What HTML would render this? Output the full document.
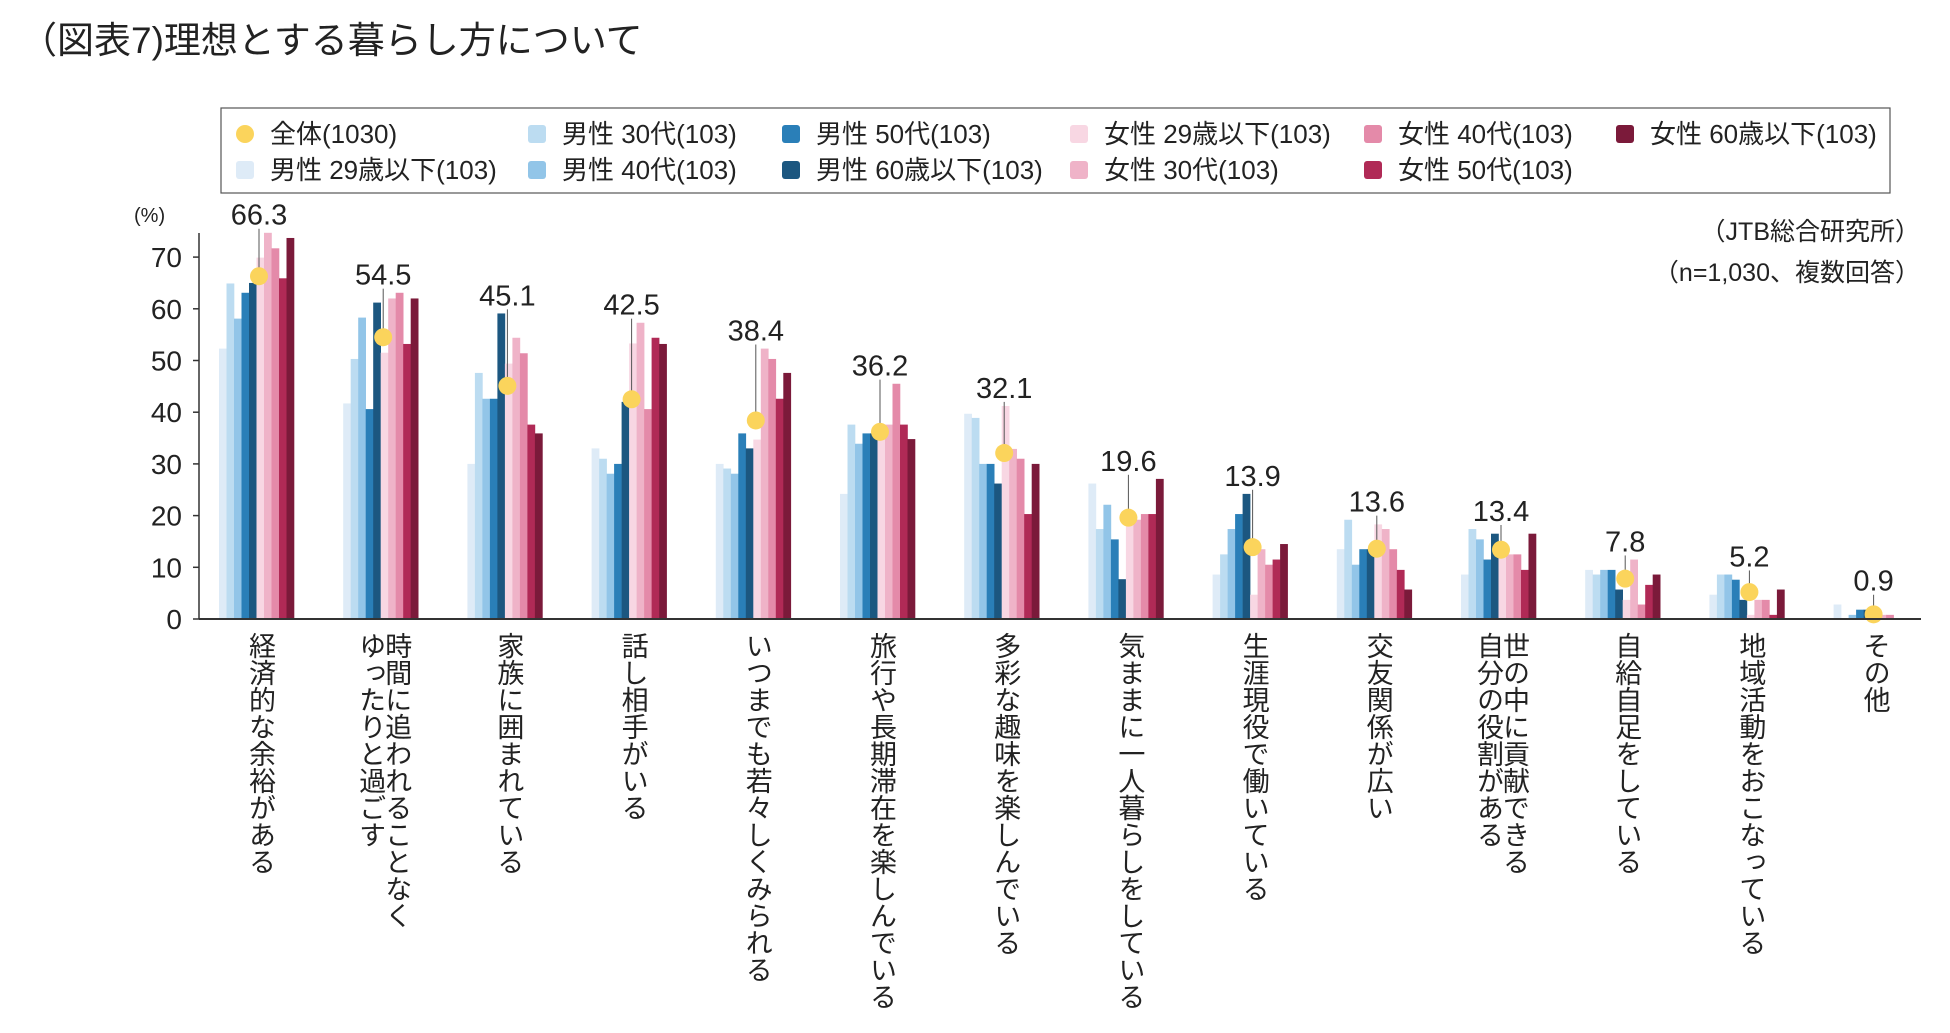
<!DOCTYPE html>
<html><head><meta charset="utf-8">
<style>
html,body{margin:0;padding:0;background:#fff;}
body{width:1950px;height:1033px;overflow:hidden;position:relative;font-family:"Liberation Sans","Noto Sans CJK JP",sans-serif;color:#222;}
svg{position:absolute;left:0;top:0;}
svg text{font-family:"Liberation Sans","Noto Sans CJK JP",sans-serif;}
</style></head>
<body>
<svg id="chart" width="1950" height="1033"></svg>
<script>
const categories = ["経済的な余裕がある","時間に追われることなく|ゆったりと過ごす","家族に囲まれている","話し相手がいる","いつまでも若々しくみられる","旅行や長期滞在を楽しんでいる","多彩な趣味を楽しんでいる","気ままに一人暮らしをしている","生涯現役で働いている","交友関係が広い","世の中に貢献できる|自分の役割がある","自給自足をしている","地域活動をおこなっている","その他"];
const totalValues = [66.3,54.5,45.1,42.5,38.4,36.2,32.1,19.6,13.9,13.6,13.4,7.8,5.2,0.9];
const seriesNames = ["男性 29歳以下(103)","男性 30代(103)","男性 40代(103)","男性 50代(103)","男性 60歳以下(103)","女性 29歳以下(103)","女性 30代(103)","女性 40代(103)","女性 50代(103)","女性 60歳以下(103)"];
const m29 = [52.3,41.7,30.0,33.0,30.0,24.2,39.7,26.2,8.6,13.5,8.6,9.5,4.7,2.8];
const m30 = [64.9,50.3,47.6,31.0,29.1,37.6,38.9,17.4,12.5,19.2,17.4,8.6,8.6,0];
const m40 = [58.1,58.3,42.6,28.1,28.1,33.9,30.0,22.1,17.4,10.5,15.4,9.5,8.6,0.8];
const m50 = [63.1,40.6,42.6,30.0,35.9,35.9,30.0,15.4,20.3,13.5,11.5,9.5,7.6,1.8];
const m60 = [65.0,61.2,59.1,42.0,33.0,35.9,26.2,7.7,24.2,13.5,16.5,5.7,3.7,1.8];
const f29 = [69.9,51.5,49.4,53.3,34.7,37.6,41.2,19.2,4.7,18.3,13.4,3.7,0.8,0];
const f30 = [74.7,62.0,54.4,57.3,52.3,37.6,32.9,19.2,13.5,17.4,12.5,11.5,3.7,0.8];
const f40 = [71.7,63.1,51.4,40.6,50.3,45.5,31.0,20.3,10.5,13.5,12.5,2.8,3.7,0.8];
const f50 = [65.9,53.2,37.6,54.4,42.6,37.6,20.3,20.3,11.5,9.5,9.5,6.6,0.8,0];
const f60 = [73.7,62.0,35.9,53.2,47.6,34.8,30.0,27.1,14.5,5.7,16.5,8.6,5.7,0];
const yTicks = [0,10,20,30,40,50,60,70];

const series = [m29,m30,m40,m50,m60,f29,f30,f40,f50,f60];
const colors = ["#deebf7","#bcdcf1","#92c5e8","#2a7fb8","#1c5780","#f8d7e3","#efb3c8","#e48aa9","#b02a56","#7b1a3a"];
const NS="http://www.w3.org/2000/svg";
const svg=document.getElementById('chart');
const X0=199, BASE=619, PER=5.17, G0=219, GP=124.2, BW=7.5;
function y(v){return BASE-v*PER;}
function gx(i){return G0+i*GP;}
function mk(tag,attrs,parent){const e=document.createElementNS(NS,tag);for(const k in attrs)e.setAttribute(k,attrs[k]);(parent||svg).appendChild(e);return e;}
function txt(s,attrs,parent){const e=mk('text',attrs,parent);e.textContent=s;return e;}

let t=txt("（図表7)理想とする暮らし方について",{x:20,y:53,'font-size':37,fill:'#222'});



const lg=mk('g',{});


mk('rect',{x:221,y:108,width:1669,height:85,fill:'#fff',stroke:'#555','stroke-width':1.2},lg);
const legItems=[
 {n:"全体(1030)",c:"#fbd45c",dot:true,col:0,row:0},
 {n:seriesNames[0],c:colors[0],col:0,row:1},
 {n:seriesNames[1],c:colors[1],col:1,row:0},
 {n:seriesNames[2],c:colors[2],col:1,row:1},
 {n:seriesNames[3],c:colors[3],col:2,row:0},
 {n:seriesNames[4],c:colors[4],col:2,row:1},
 {n:seriesNames[5],c:colors[5],col:3,row:0},
 {n:seriesNames[6],c:colors[6],col:3,row:1},
 {n:seriesNames[7],c:colors[7],col:4,row:0},
 {n:seriesNames[8],c:colors[8],col:4,row:1},
 {n:seriesNames[9],c:colors[9],col:5,row:0}];
const colX=[245,537,791,1079,1373,1625];
legItems.forEach((it)=>{
  const g=mk('g',{},lg);
  
  
  const cy=it.row?170:134, cx=colX[it.col];
  if(it.dot) mk('circle',{cx:cx,cy:cy,r:9,fill:it.c},g);
  else mk('rect',{x:cx-9,y:cy-9,width:18,height:18,rx:3,fill:it.c},g);
  txt(it.n,{x:cx+25,y:cy+9,'font-size':26,fill:'#222'},g);
});

t=txt("（JTB総合研究所）",{x:1920,y:240,'font-size':25,'text-anchor':'end',fill:'#222'});


t=txt("（n=1,030、複数回答）",{x:1920,y:281,'font-size':25,'text-anchor':'end',fill:'#222'});


t=txt("(%)",{x:134,y:222,'font-size':20,fill:'#222'});



const ax=mk('g',{});


mk('line',{x1:X0,y1:233,x2:X0,y2:BASE,stroke:'#333','stroke-width':1.5},ax);
yTicks.forEach(v=>{
  mk('line',{x1:X0-6,y1:y(v),x2:X0,y2:y(v),stroke:'#333','stroke-width':1.5},ax);
  const l=txt(String(v),{x:182,y:y(v)+10,'font-size':28,'text-anchor':'end',fill:'#222'},ax);
  
  
});

categories.forEach((c,i)=>{
  const g=mk('g',{});
  
  
  let mx=0;
  series.forEach((s,j)=>{
    const v=s[i]; mx=Math.max(mx,v);
    if(v<=0) return;
    const r=mk('rect',{x:gx(i)+j*BW,y:y(v),width:BW+0.3,height:v*PER,fill:colors[j]},g);
    
    
  });
  const dx=gx(i)+40, dy=y(totalValues[i]);
  const lv=Math.max(mx+3.5,totalValues[i]+6.5);
  const ly=y(lv);
  if(ly+14<dy-9) mk('line',{x1:dx,y1:ly+14,x2:dx,y2:dy-8,stroke:'#555','stroke-width':1},g);
  const d=mk('circle',{cx:dx,cy:dy,r:9,fill:'#fbd45c'},g);
  
  
  const vl=txt(totalValues[i].toFixed(1),{x:dx,y:ly+10,'font-size':29,'text-anchor':'middle',fill:'#222'},g);
  
  
  const parts=c.split('|');
  const cx0=gx(i)+41;
  parts.forEach((p,k)=>{
    const colx = parts.length===1? cx0 : cx0+ (k===0?12:-14);
    const tl=txt(p,{x:colx,y:632,'font-size':27,fill:'#222','text-anchor':'start'},g);
    tl.setAttribute('style','writing-mode:vertical-rl;');
    
    
  });
});
const bl=mk('line',{x1:X0,y1:BASE,x2:1921,y2:BASE,stroke:'#333','stroke-width':2});


</script>
</body></html>
